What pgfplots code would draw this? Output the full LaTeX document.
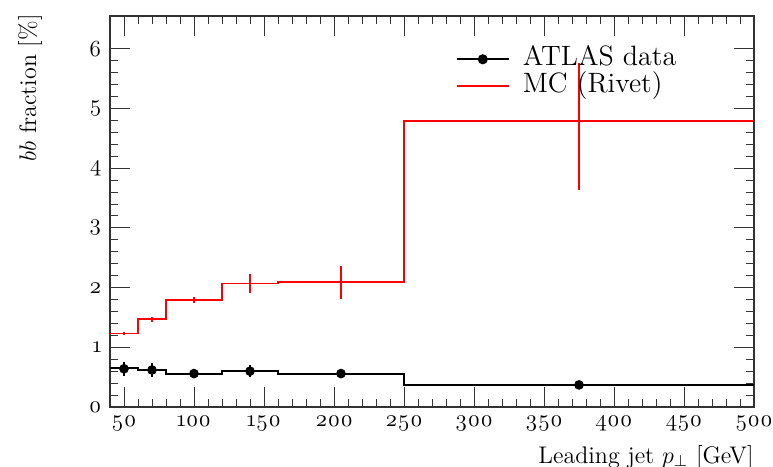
\documentclass[border=0pt,12pt]{standalone}
\usepackage{fontspec}
\setmainfont{Latin Modern Roman}[Numbers=OldStyle]
\usepackage{pgfplots}
\pgfplotsset{compat=1.18}
\begin{document}
\begin{tikzpicture}
\begin{axis}[
  scale only axis,
  width=322pt, height=195.5pt,
  xmin=40, xmax=500, ymin=0, ymax=6.55,
  xtick={50,100,...,500},
  minor x tick num=4,
  ytick={0,1,...,6},
  minor y tick num=4,
  tick align=inside,
  major tick length=10pt,
  minor tick length=4pt,
  tick style={black!80, line width=0.5pt},
  axis line style={black!80, line width=0.6pt},
  /pgf/number format/assume math mode=true,
  tick label style={font=\fontsize{11.5}{13}\selectfont},
  xlabel={Leading jet $p_\perp$ [GeV]},
  ylabel={$bb$ fraction [\%]},
  xlabel style={at={(axis description cs:1,-0.097)}, anchor=north east, inner sep=0pt},
  ylabel style={at={(axis description cs:-0.1242,1.005)}, anchor=east, inner sep=0pt},
  legend style={at={(axis description cs:0.527,0.935)}, anchor=north west, draw=none, fill=none,
    row sep=0pt, font=\fontsize{14}{14}\selectfont,
    nodes={inner sep=0.5pt, text height=9.5pt, text depth=3pt}},
  legend cell align=left,
  legend image code/.code={\draw[#1] (0pt,0pt) -- (26pt,0pt); \path (32pt,0pt);},
]
% data histogram line
\addplot[black, line width=1pt, const plot mark left, mark=none, forget plot]
  coordinates {(40,0.65) (60,0.62) (80,0.56) (120,0.60) (160,0.56) (250,0.37) (500,0.37)};
% data points
\addplot[black, only marks, mark=*, mark size=2.2pt, forget plot,
  error bars/.cd, y dir=both, y explicit, error mark=none,
  error bar style={black, line width=1pt}]
  coordinates {
  (50,0.64) +- (0,0.12)
  (70,0.62) +- (0,0.11)
  (100,0.56) +- (0,0.08)
  (140,0.60) +- (0,0.10)
  (205,0.56) +- (0,0.05)
  (375,0.37) +- (0,0.05)
  };
% MC histogram
\addplot[red, line width=0.9pt, const plot mark left, mark=none, forget plot]
  coordinates {(40,1.23) (60,1.47) (80,1.79) (120,2.07) (160,2.09) (250,4.79) (500,4.79)};
% MC error bars
\addplot[draw=none, mark=none, forget plot,
  error bars/.cd, y dir=both, y explicit, error mark=none,
  error bar style={solid, red, draw=red, line width=0.7pt}]
  coordinates {
  (50,1.23) +- (0,0.02)
  (70,1.47) +- (0,0.04)
  (100,1.79) +- (0,0.05)
  (140,2.07) +- (0,0.16)
  (205,2.09) +- (0,0.28)
  (375,4.79) += (0,0.98) -= (0,1.16)
  };
\addlegendimage{black, line width=1pt,
  legend image code/.code={\draw[black, line width=1pt] (0pt,0pt) -- (26pt,0pt); \fill[black] (13pt,0pt) circle (2pt); \path (32pt,0pt);}}
\addlegendentry{ATLAS data}
\addlegendimage{red, line width=0.9pt}
\addlegendentry{MC (Rivet)}
\end{axis}
\pgfresetboundingbox
\path[use as bounding box] ([shift={(-55pt,-29.5pt)}]current axis.south west) rectangle ([shift={(9.5pt,8pt)}]current axis.north east);
\end{tikzpicture}
\end{document}
